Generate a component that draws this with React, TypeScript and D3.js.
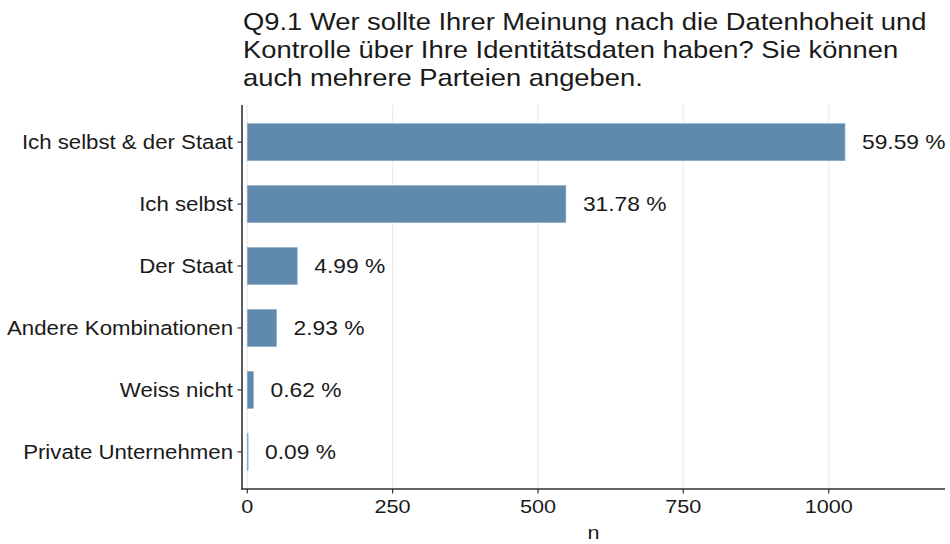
import React from "react";
import * as d3 from "d3";

const categories = [
  "Ich selbst & der Staat",
  "Ich selbst",
  "Der Staat",
  "Andere Kombinationen",
  "Weiss nicht",
  "Private Unternehmen",
];
const counts = [1028, 548, 86, 50.5, 10.7, 1.5];
const percentLabels = ["59.59 %", "31.78 %", "4.99 %", "2.93 %", "0.62 %", "0.09 %"];
const xTicks = [0, 250, 500, 750, 1000];
const titleLines = [
  "Q9.1 Wer sollte Ihrer Meinung nach die Datenhoheit und",
  "Kontrolle über Ihre Identitätsdaten haben? Sie können",
  "auch mehrere Parteien angeben.",
];

const W = 950;
const H = 544;
const FONT = "'Liberation Sans', Arial, sans-serif";
const SX = 1.14;

function T({
  x,
  y,
  size,
  anchor = "start",
  dy,
  children,
}: {
  x: number;
  y: number;
  size: number;
  anchor?: string;
  dy?: string;
  children: React.ReactNode;
}) {
  return (
    <g transform={`translate(${x},${y}) scale(${SX},1)`}>
      <text x={0} y={0} dy={dy} fontSize={size} textAnchor={anchor as any} fill="#1a1a1a">
        {children}
      </text>
    </g>
  );
}

export default function App() {
  const left = 242;
  const right = 945;
  const top = 105;
  const bottom = 489;

  const x = d3.scaleLinear().domain([-9, 1200]).range([left, right]);
  const y = d3
    .scaleBand<string>()
    .domain(categories)
    .range([top, bottom])
    .paddingInner(0.4)
    .paddingOuter(0.3);
  const center = (c: string) => (y(c) as number) + y.bandwidth() / 2;
  const barH = y.bandwidth();

  return (
    <svg
      width={W}
      height={H}
      style={{ position: "fixed", left: 0, top: 0, background: "#fff" }}
      fontFamily={FONT}
    >
      <rect x={0} y={0} width={W} height={H} fill="#fff" />
      {titleLines.map((t, i) => (
        <T key={i} x={left + 1} y={30 + i * 28} size={24}>
          {t}
        </T>
      ))}
      {xTicks.map((t) => (
        <line
          key={"g" + t}
          x1={x(t)}
          x2={x(t)}
          y1={top}
          y2={bottom}
          stroke="#ebebeb"
          strokeWidth={1.2}
        />
      ))}
      {categories.map((c, i) => (
        <g key={c}>
          <rect
            x={x(0)}
            y={center(c) - barH / 2}
            width={Math.max(0.8, x(counts[i]) - x(0))}
            height={barH}
            fill="#5f8aae"
            stroke="#8fb0cc"
            strokeWidth={0.6}
          />
          <T x={x(counts[i]) + 17} y={center(c)} dy="0.36em" size={20}>
            {percentLabels[i]}
          </T>
        </g>
      ))}
      <line x1={left} x2={left} y1={top} y2={bottom + 0.75} stroke="#333" strokeWidth={1.6} />
      <line x1={left - 0.75} x2={right} y1={bottom} y2={bottom} stroke="#333" strokeWidth={1.6} />
      {categories.map((c) => (
        <g key={"yt" + c}>
          <line x1={left - 4.5} x2={left} y1={center(c)} y2={center(c)} stroke="#333" strokeWidth={1.2} />
          <T x={left - 9} y={center(c)} dy="0.36em" anchor="end" size={19.5}>
            {c}
          </T>
        </g>
      ))}
      {xTicks.map((t) => (
        <g key={"xt" + t}>
          <line x1={x(t)} x2={x(t)} y1={bottom} y2={bottom + 4.5} stroke="#333" strokeWidth={1.2} />
          <T x={x(t)} y={513} anchor="middle" size={19}>
            {t}
          </T>
        </g>
      ))}
      <T x={(left + right) / 2} y={539} anchor="middle" size={19}>
        n
      </T>
    </svg>
  );
}
